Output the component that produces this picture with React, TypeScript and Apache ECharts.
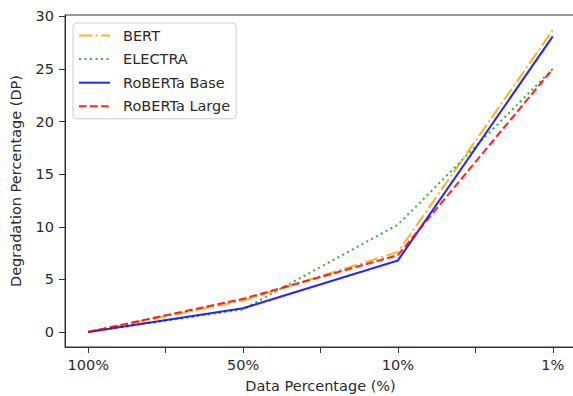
import React, { useEffect, useRef } from "react";
import * as echarts from "echarts";

const categories = ["100%", "50%", "10%", "1%"];
const bert = [0, 3.0, 7.6, 28.7];
const electra = [0, 2.15, 10.2, 25.0];
const robertaBase = [0, 2.25, 6.8, 28.1];
const robertaLarge = [0, 3.15, 7.3, 25.0];
const yTicks = [0, 5, 10, 15, 20, 25, 30];

const FONT = "DejaVu Sans";
const TXT = "#2a2a2a";
const FS = 14.5;

export default function App() {
  const ref = useRef<HTMLDivElement>(null);
  useEffect(() => {
    const chart = echarts.init(ref.current!, null, { renderer: "svg" });
    const mk = (name: string, vals: number[], color: string, type: any) => ({
      name,
      type: "line",
      data: vals.map((v, i) => [i, v]),
      symbol: "none",
      showSymbol: false,
      legendIcon: "rect",
      lineStyle: { color, width: 2.1, type, opacity: 0.85 },
      itemStyle: { color },
      z: 2,
    });
    chart.setOption({
      animation: false,
      textStyle: { fontFamily: FONT },
      grid: {
        left: 65,
        right: -3,
        top: 15,
        bottom: 49,
        outerBoundsMode: "none",
        containLabel: false,
        show: true,
        borderColor: "#333",
        borderWidth: 1,
      },
      legend: {
        orient: "vertical",
        left: 73,
        top: 23,
        padding: [5, 6, 5, 5],
        itemWidth: 31,
        itemHeight: 14,
        itemGap: 8.6,
        backgroundColor: "rgba(255,255,255,0.8)",
        borderColor: "#ccc",
        borderWidth: 1,
        borderRadius: 4,
        itemStyle: { opacity: 0 },
        textStyle: { fontFamily: FONT, fontSize: FS, color: TXT, padding: [0, 0, 0, 8] },
        data: ["BERT", "ELECTRA", "RoBERTa Base", "RoBERTa Large"],
      },
      xAxis: {
        type: "value",
        min: -0.15,
        max: 3.15,
        name: "Data Percentage (%)",
        nameLocation: "middle",
        nameGap: 31,
        nameTextStyle: { fontFamily: FONT, fontSize: FS, color: TXT },
        axisLine: { show: true, onZero: false, lineStyle: { color: "#333" } },
        axisTick: {
          show: true,
          length: 6,
          customValues: [0, 0.5, 1, 1.5, 2, 2.5, 3],
          lineStyle: { color: "#333" },
        },
        axisLabel: {
          customValues: [0, 1, 2, 3],
          formatter: (v: number) => categories[Math.round(v)] ?? "",
          fontFamily: FONT,
          fontSize: FS,
          color: TXT,
          margin: 10,
        },
        splitLine: { show: false },
      },
      yAxis: {
        type: "value",
        min: -1.43,
        max: 30.13,
        name: "Degradation Percentage (DP)",
        nameLocation: "middle",
        nameGap: 42,
        nameTextStyle: { fontFamily: FONT, fontSize: FS, color: TXT },
        axisLine: { show: true, onZero: false, lineStyle: { color: "#333" } },
        axisTick: { show: true, length: 6, customValues: yTicks, lineStyle: { color: "#333" } },
        axisLabel: {
          customValues: yTicks,
          fontFamily: FONT,
          fontSize: FS,
          color: TXT,
          margin: 11,
        },
        splitLine: { show: false },
      },
      series: [
        mk("BERT", bert, "#FFA500", [13.3, 3.3, 2.1, 3.3]),
        mk("ELECTRA", electra, "#2ca02c", [2.1, 3.4]),
        mk("RoBERTa Base", robertaBase, "#0000FF", "solid"),
        mk("RoBERTa Large", robertaLarge, "#FF0000", [7.7, 3.3]),
      ],
    });
    return () => chart.dispose();
  }, []);
  return <div ref={ref} style={{ width: 573, height: 396, position: "absolute", left: 0, top: 0 }} />;
}
